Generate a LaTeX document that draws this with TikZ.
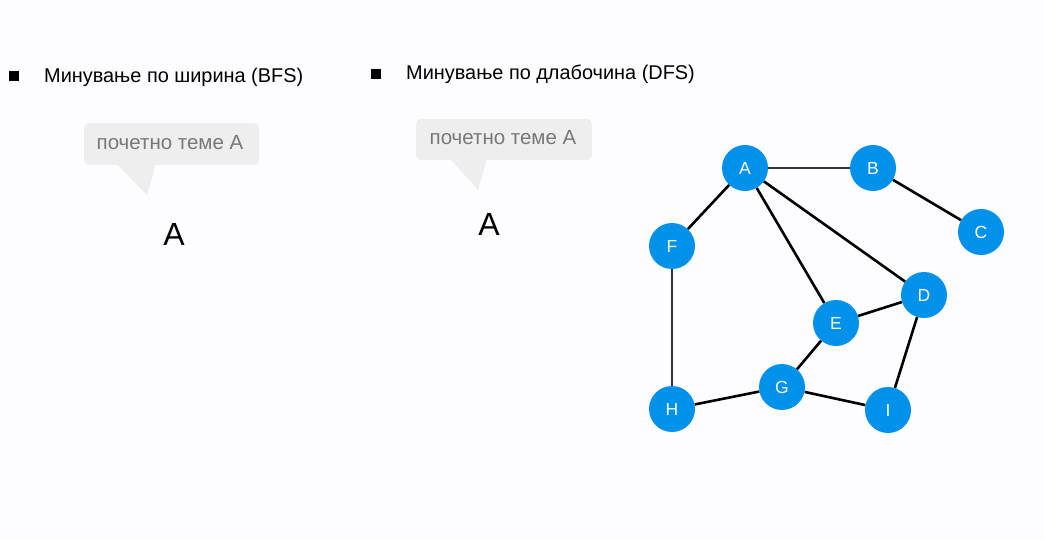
\documentclass[tikz,border=0pt]{standalone}
\usepackage{fontspec}
\setmainfont{Liberation Sans}
\definecolor{nodeblue}{RGB}{0,145,234}
\definecolor{bubble}{RGB}{238,238,239}
\definecolor{bubbletext}{RGB}{120,120,122}
\definecolor{bg}{RGB}{253,252,254}
\begin{document}
\begin{tikzpicture}[x=1pt,y=-1pt,
  vert/.style={circle,fill=nodeblue,minimum size=46pt,inner sep=0pt,text=white,font=\fontsize{17.5}{19}\selectfont},
  thick edge/.style={line width=2.6pt,black},
  thin edge/.style={line width=1.2pt,black!80},
  bullet/.style={fill=black,minimum size=10pt,inner sep=0pt},
  heading/.style={anchor=base west,font=\fontsize{19.9}{22}\selectfont,inner sep=0pt},
  bubblebox/.style={fill=bubble,rounded corners=5pt,draw=none},
  bubbletxt/.style={text=bubbletext,font=\fontsize{20.5}{22}\selectfont,inner sep=0pt},
  bigA/.style={font=\fontsize{32}{34}\selectfont,inner sep=0pt}]
\fill[bg] (0,0) rectangle (1044,540);
\useasboundingbox (0,0) rectangle (1044,540);
% bullets and headings
\node[bullet] (b1) at (14,76) {};
\node[heading] (h1) at (44,83) {Минување по ширина (BFS)};
\node[bullet] (b2) at (376,74) {};
\node[heading] (h2) at (406,80) {Минување по длабочина (DFS)};
% callout 1
\fill[bubble] (113,160) -- (157,160) -- (147,195) -- cycle;
\fill[bubblebox] (84,123) rectangle (259,165);
\node[bubbletxt] (t1) at (170,143) {почетно теме А};
\node[bigA] (a1) at (174,234) {A};
% callout 2
\fill[bubble] (447,155) -- (488,155) -- (478,190) -- cycle;
\fill[bubblebox] (416,119) rectangle (592,160);
\node[bubbletxt] (t2) at (503,138) {почетно теме А};
\node[bigA] (a2) at (489,224) {A};
% graph
\node[vert] (A) at (745,168) {A};
\node[vert] (B) at (873,168) {B};
\node[vert] (C) at (981,232) {C};
\node[vert] (F) at (672,246) {F};
\node[vert] (D) at (924,295) {D};
\node[vert] (E) at (836,323) {E};
\node[vert] (G) at (782,387) {G};
\node[vert] (H) at (672,409) {H};
\node[vert] (I) at (888,410) {I};
\draw[thin edge] (A) -- (B);
\draw[thin edge] (F) -- (H);
\draw[thick edge] (A) -- (F);
\draw[thick edge] (A) -- (E);
\draw[thick edge] (A) -- (D);
\draw[thick edge] (B) -- (C);
\draw[thick edge] (E) -- (D);
\draw[thick edge] (E) -- (G);
\draw[thick edge] (G) -- (H);
\draw[thick edge] (G) -- (I);
\draw[thick edge] (D) -- (I);
\end{tikzpicture}
\end{document}
